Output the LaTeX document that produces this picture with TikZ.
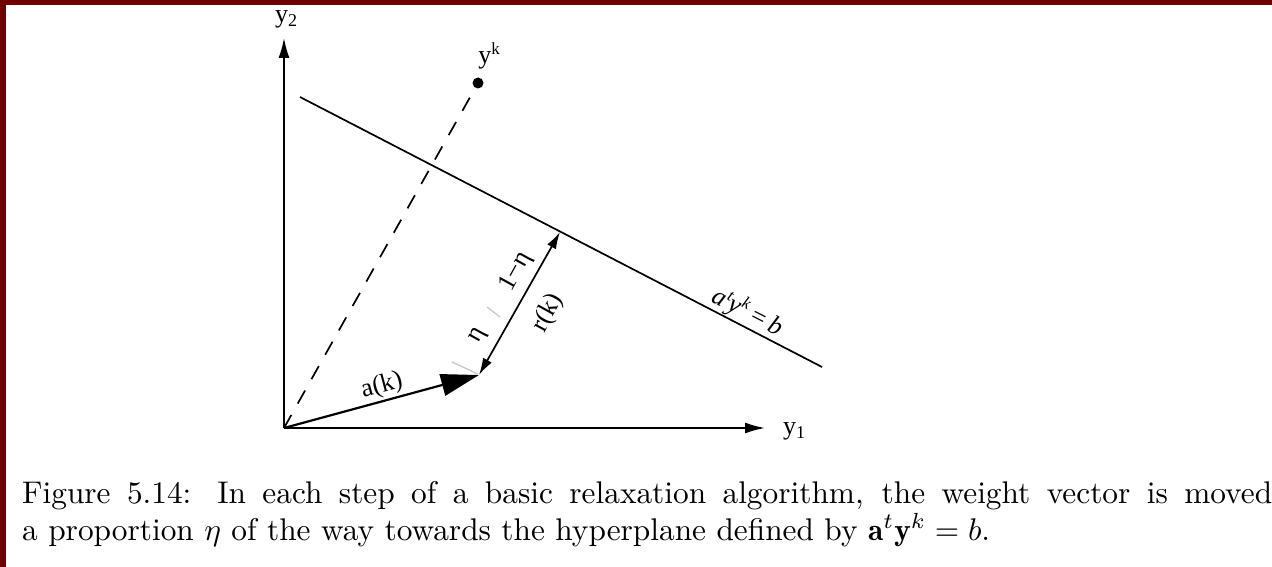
\documentclass[tikz,border=0pt]{standalone}
\usepackage{fontspec}
\usepackage{amsmath}
\usepackage{graphicx}
\usetikzlibrary{arrows.meta}
\newfontfamily\tms{Liberation Serif}
\definecolor{frame}{RGB}{112,0,0}
\newlength\capwb
\AtBeginDocument{\settowidth\capwb{\fontsize{10}{12}\selectfont a proportion $\eta$ of the way towards the hyperplane defined by $\mathbf{a}^t\mathbf{y}^k = b$.}}
\tikzset{
  axis/.style={line width=1.8pt,-{Latex[length=20pt,width=11pt]}},
  plane/.style={line width=1.7pt},
  dashline/.style={line width=1.7pt,dash pattern=on 15pt off 13pt},
  avec/.style={line width=2.2pt,-{Triangle[length=38pt,width=22pt]}},
  rvec/.style={line width=1.7pt,{Latex[length=17pt,width=10pt]}-{Latex[length=17pt,width=10pt]}},
  tick/.style={line width=1.2pt,gray!45},
  lbl/.style={inner sep=0pt,font=\tms\fontsize{26}{30}\selectfont},
  sub/.style={},
}
\newcommand\lowidx[1]{\raisebox{-0.35ex}{\fontsize{18}{20}\selectfont #1}}
\newcommand\upidx[1]{\raisebox{0.8ex}{\fontsize{17}{20}\selectfont #1}}
\begin{document}
\begin{tikzpicture}[x=1pt,y=-1pt]
\fill[frame] (0,0) rectangle (1272,567);
\fill[white] (6,5) rectangle (1272,567);
\useasboundingbox (0,0) rectangle (1272,567);

\coordinate (O) at (284,428);
\coordinate (Y2) at (284,38);
\coordinate (Y1) at (765,428);
\coordinate (H1) at (300,97);
\coordinate (H2) at (822,367);
\coordinate (A) at (479,375);
\coordinate (P) at (560,232);
\node[circle,fill=black,inner sep=0pt,minimum size=11pt] (yk) at (478,83) {};

% axes
\draw[axis] (O) -- (Y2);
\draw[axis] (O) -- (Y1);
\node[lbl] (ly2) at (286,19) {y\lowidx{2}};
\node[lbl] (ly1) at (794,431) {y\lowidx{1}};

% hyperplane
\draw[plane] (H1) -- (H2);
\node[lbl,rotate=-27] (lplane) at (748,312) {\itshape a\upidx{t}y\upidx{k}\,=\,b};

% dashed line to y^k
\draw[dashline] (O) -- (yk.center);
\node[lbl] (lyk) at (489,56) {y\upidx{k}};

% a(k)
\draw[avec] (O) -- (A);
\node[lbl,rotate=15] (lak) at (382,386) {a(k)};

% r(k)
\draw[rvec] (A) -- (P);
\node[lbl,rotate=61] (lrk) at (548,313) {r(k)};

% gray ticks
\draw[tick] (452,362) -- (478,374);
\draw[tick] (487,307) -- (500,317);
\node[lbl,rotate=61] (leta) at (479,336) {η};
\node[lbl,rotate=61] (l1eta) at (516,272) {1−η};

% caption
\pgfmathsetmacro\capscale{968/\capwb}
\pgfmathsetlengthmacro\lineone{1250pt/\capscale}
\node[anchor=base west,inner sep=0pt] (cap) at (22,503) {\scalebox{\capscale}{\fontsize{10}{11.2}\selectfont\begin{tabular}[t]{@{}l@{}}
\makebox[\lineone][s]{Figure 5.14: In each step of a basic relaxation algorithm, the weight vector is moved}\\
a proportion $\eta$ of the way towards the hyperplane defined by $\mathbf{a}^t\mathbf{y}^k = b$.
\end{tabular}}};
\end{tikzpicture}
\end{document}
